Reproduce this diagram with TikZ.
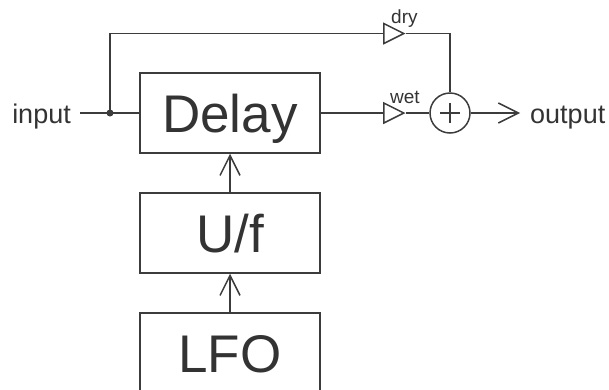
\documentclass[tikz,border=0pt]{standalone}
\usepackage{fontspec}
\setmainfont{Liberation Sans}
\usetikzlibrary{arrows.meta,shapes.geometric}
\definecolor{ink}{HTML}{333333}
\definecolor{wire}{HTML}{3C3C3C}
\tikzset{
  blk/.style={draw=wire, line width=1.5pt, minimum width=180pt, minimum height=80pt, inner sep=0pt,
    font=\fontsize{53}{53}\selectfont, text=ink, text height=38pt, text depth=0pt},
  gain/.style={draw=wire, line width=1.5pt, isosceles triangle, isosceles triangle stretches,
    minimum width=20pt, minimum height=20pt, inner sep=0pt},
  wirel/.style={draw=wire, line width=1.5pt},
  opentip/.style={-{Straight Barb[length=20pt,width=20pt]}},
  io/.style={text=ink, font=\fontsize{27}{27}\selectfont, inner sep=0pt},
  small/.style={text=ink, font=\fontsize{19}{19}\selectfont, inner sep=0pt},
}
\begin{document}
\begin{tikzpicture}[x=1pt,y=-1pt]
\useasboundingbox (0,0) rectangle (609,389);
\node[blk] (delay) at (230,113) {Delay};
\node[blk] (uf) at (230,233) {U/f};
\node[blk] (lfo) at (230,353) {LFO};
\node[io, anchor=base east] (in) at (71,123) {input};
\node[io, anchor=base west] (out) at (530,123) {output};
\coordinate (split) at (110,113);
\node[gain] (dry) at (390,33.5) {};
\node[gain] (wet) at (390,113) {};
\node[small, anchor=base west] (drylab) at (391,23) {dry};
\node[small, anchor=base west] (wetlab) at (390,103) {wet};
\node[draw=wire, line width=1.5pt, circle, minimum size=40pt, inner sep=0pt] (sum) at (450,113) {};
\draw[wirel] ([xshift=-10pt]sum.center) -- ([xshift=10pt]sum.center);
\draw[wirel] ([yshift=-10pt]sum.center) -- ([yshift=10pt]sum.center);
% connectors
\draw[wirel, shorten <=9pt] (delay.west -| in.east) -- (delay.west);
\fill[wire] (split) circle (3.5pt);
\draw[wirel] (split) |- (dry.west);
\draw[wirel] (dry.east) -| (sum.north);
\draw[wirel] (delay.east) -- (wet.west);
\draw[wirel] (wet.east) -- (sum.west);
\draw[wirel, opentip, shorten >=10pt] (sum.east) -- (sum.east -| out.west);
\draw[wirel, opentip] (uf.north) -- (delay.south);
\draw[wirel, opentip] (lfo.north) -- (uf.south);
\end{tikzpicture}
\end{document}
